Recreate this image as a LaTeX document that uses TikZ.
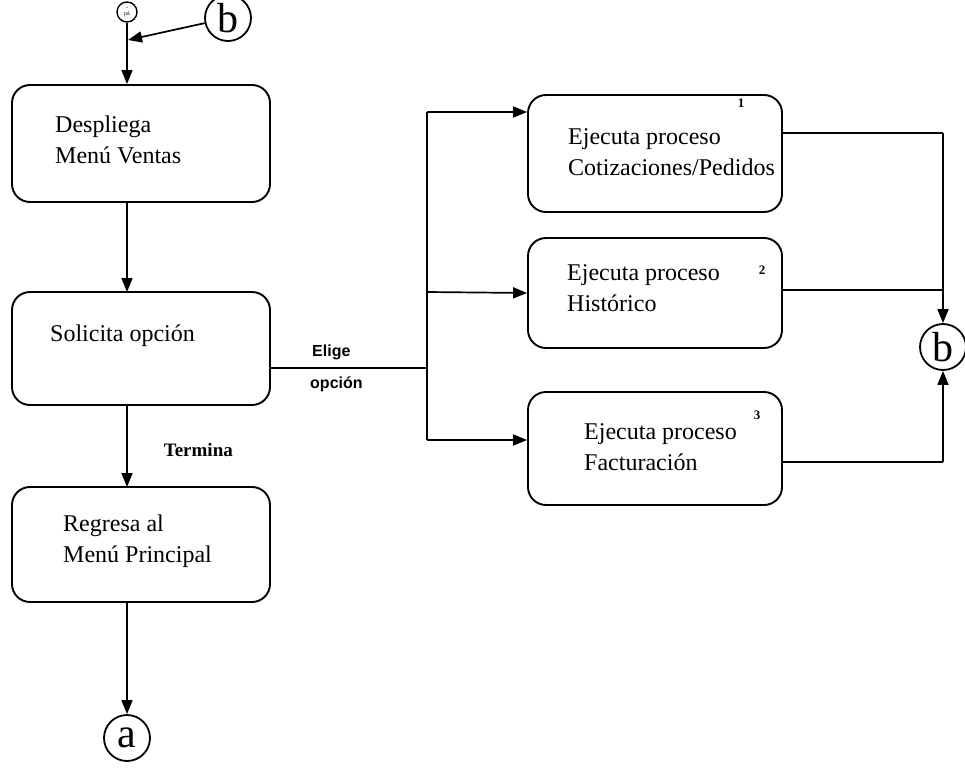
\documentclass[tikz,border=0pt]{standalone}
\usepackage{fontspec}
\setmainfont{Liberation Serif}
\newfontfamily\lblfont{Liberation Sans}
\usetikzlibrary{arrows.meta}
\begin{document}
\begin{tikzpicture}[x=1pt,y=-1pt,
  procbox/.style={draw, line width=1.9pt, rounded corners=18pt, inner sep=0pt},
  btext/.style={anchor=west, inner sep=0pt, align=left, font=\fontsize{24}{31}\selectfont},
  conn/.style={draw, circle, line width=1.8pt, inner sep=0pt, minimum size=46pt,
    font=\fontsize{42}{42}\selectfont},
  flow/.style={line width=1.7pt, -{Triangle[length=14pt,width=11pt]}},
  plain/.style={line width=1.7pt},
  edgelbl/.style={anchor=west, inner sep=0pt, font=\lblfont\bfseries\fontsize{16}{16}\selectfont},
  numlbl/.style={inner sep=0pt, font=\bfseries\fontsize{13}{13}\selectfont}
]
\useasboundingbox (0,0) rectangle (965,768);

% main column
\node[procbox, minimum width=258pt, minimum height=117pt] (menu) at (141,143.5) {};
\node[btext] (menutxt) at (55,140) {Despliega\\Menú Ventas};
\node[procbox, minimum width=258pt, minimum height=113pt] (ask) at (141,348.5) {};
\node[btext] (asktxt) at (50,336) {Solicita opción};
\node[procbox, minimum width=258pt, minimum height=115pt] (back) at (141,544.5) {};
\node[btext] (backtxt) at (63,541) {Regresa al\\Menú Principal};

% processes
\node[procbox, minimum width=254pt, minimum height=117pt] (pa) at (655,153.5) {};
\node[btext] (patxt) at (568,152) {Ejecuta proceso\\Cotizaciones/Pedidos};
\node[numlbl] (na) at (741,103) {1};
\node[procbox, minimum width=254pt, minimum height=110pt] (pb) at (655,293) {};
\node[btext] (pbtxt) at (567,288) {Ejecuta proceso\\Histórico};
\node[numlbl] (nb) at (762,270) {2};
\node[procbox, minimum width=254pt, minimum height=113pt] (pc) at (655,448.5) {};
\node[btext] (pctxt) at (584,447) {Ejecuta proceso\\Facturación};
\node[numlbl] (nc) at (757,415) {3};

% connectors
\node[draw, circle, line width=1.4pt, minimum size=20pt, inner sep=0pt,
  font=\fontsize{6}{6}\selectfont, align=center] (start) at (127,12) {-\\pá};
\node[conn] (btop) at (228,18) {b};
\node[conn] (bright) at (943,347) {b};
\node[conn] (aend) at (127,738) {a};

% left column flow (the spine runs left of the box centres)
\coordinate (merge) at (128,40);
\draw[flow] (start.south) -- (start.south |- menu.north);
\draw[flow] (btop) -- (merge);
\draw[flow] (127,202) -- (127,292);
\draw[flow] (127,405) -- node[edgelbl, font=\bfseries\fontsize{19}{19}\selectfont, pos=0.55, xshift=36pt] (term) {Termina} (127,487);
\draw[flow] (127,602) -- (aend.north);

% option branch
\coordinate (split) at (427,368);
\coordinate (ttop) at (427,112);
\coordinate (tbot) at (427,440);
\draw[plain] ([yshift=-19.5pt]ask.east) -- (split);
\node[edgelbl] (elige) at (312,352) {Elige};
\node[edgelbl] (opcion) at (310,384) {opción};
\draw[plain] (ttop) -- (tbot);
\draw[flow] (ttop) -- ([yshift=41.5pt]pa.west);
\draw[flow] (427,292) -- (pb.west);
\draw[flow] (tbot) -- ([yshift=8.5pt]pc.west);

% return to b
\coordinate (ra) at (943,133);
\coordinate (rb) at (943,290);
\coordinate (rc) at (943,462);
\draw[plain] ([yshift=20.5pt]pa.east) -- (ra);
\draw[flow] (ra) -- (bright.north);
\draw[plain] ([yshift=3pt]pb.east) -- (rb);
\draw[plain] ([yshift=-13.5pt]pc.east) -- (rc);
\draw[flow] (rc) -- (bright.south);
\end{tikzpicture}
\end{document}
